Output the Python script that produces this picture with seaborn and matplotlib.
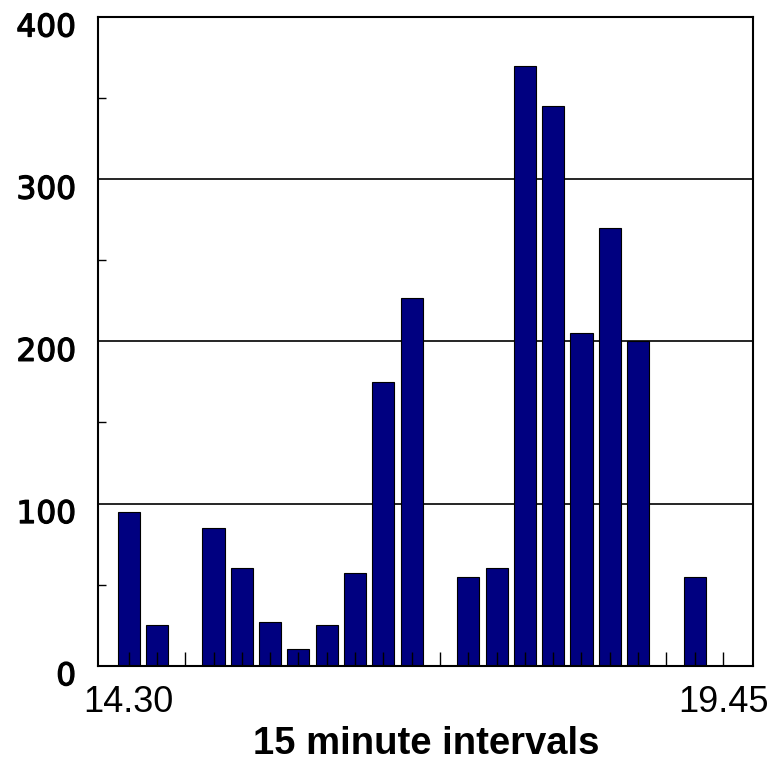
import matplotlib
matplotlib.use("Agg")
import matplotlib.pyplot as plt
import matplotlib.transforms as mtransforms
import matplotlib.patheffects as pe
import seaborn as sns
import pandas as pd
import numpy as np

times = ["14.30", "14.45", "15.00", "15.15", "15.30", "15.45", "16.00", "16.15",
         "16.30", "16.45", "17.00", "17.15", "17.30", "17.45", "18.00", "18.15",
         "18.30", "18.45", "19.00", "19.15", "19.30", "19.45"]
counts = [95, 25, 0, 85, 60, 27, 10, 25, 57, 175, 227, 0, 55, 60, 370, 345,
          205, 270, 200, 0, 55, 0]
shown_labels = {"14.30": "14.30", "19.45": "19.45"}
yticks = [0, 100, 200, 300, 400]
yminor = [50, 150, 250, 350]

sns.set_theme(style="white")
plt.rcParams["font.family"] = ["Liberation Sans", "DejaVu Sans"]
plt.rcParams.update({"text.color": "black", "axes.labelcolor": "black",
                     "xtick.color": "black", "ytick.color": "black"})

df = pd.DataFrame({"time": times, "count": counts})

fig = plt.figure(figsize=(7.74, 7.64), dpi=100)
ax = fig.add_axes([98.3 / 774, 1 - 665.7 / 764, (753.3 - 98.3) / 774, (665.7 - 17) / 764])

sns.barplot(data=df, x="time", y="count", order=times, color="#000080",
            saturation=1, edgecolor="black", linewidth=0.8, width=0.78, ax=ax, zorder=2)

for g in [100, 200, 300]:
    ax.axhline(g, color="black", lw=1.2, zorder=0.5)

ax.set_xlim(-1.07, 22.07)
ax.set_ylim(0, 400)
ax.set_axisbelow(False)

ax.set_xticks(range(len(times)))
ax.set_xticklabels([shown_labels.get(t, "") for t in times], fontsize=26, color="black")
ax.tick_params(axis="x", direction="in", length=10, width=1, color="black", pad=14,
               bottom=True, top=False)

ax.set_yticks(yticks)
ax.set_yticks(yminor, minor=True)
ax.set_yticklabels([str(v) for v in yticks], fontsize=22.5, family="DejaVu Sans",
                   color="black")
ax.tick_params(axis="y", which="major", direction="in", length=0, pad=16, left=True)
ax.tick_params(axis="y", which="minor", direction="in", length=6, width=1,
               color="black", left=True)
offset = mtransforms.ScaledTranslation(0, -8 / 100, fig.dpi_scale_trans)
for lab in ax.get_yticklabels():
    lab.set_transform(lab.get_transform() + offset)
    lab.set_path_effects([pe.withStroke(linewidth=0.9, foreground="black")])

for s in ax.spines.values():
    s.set_visible(True)
    s.set_color("black")
    s.set_linewidth(1.5)

ax.set_ylabel("")
ax.set_xlabel("15 minute intervals", fontsize=27.5, fontweight="bold", labelpad=4,
              color="black")

fig.savefig("out.png", dpi=100)
